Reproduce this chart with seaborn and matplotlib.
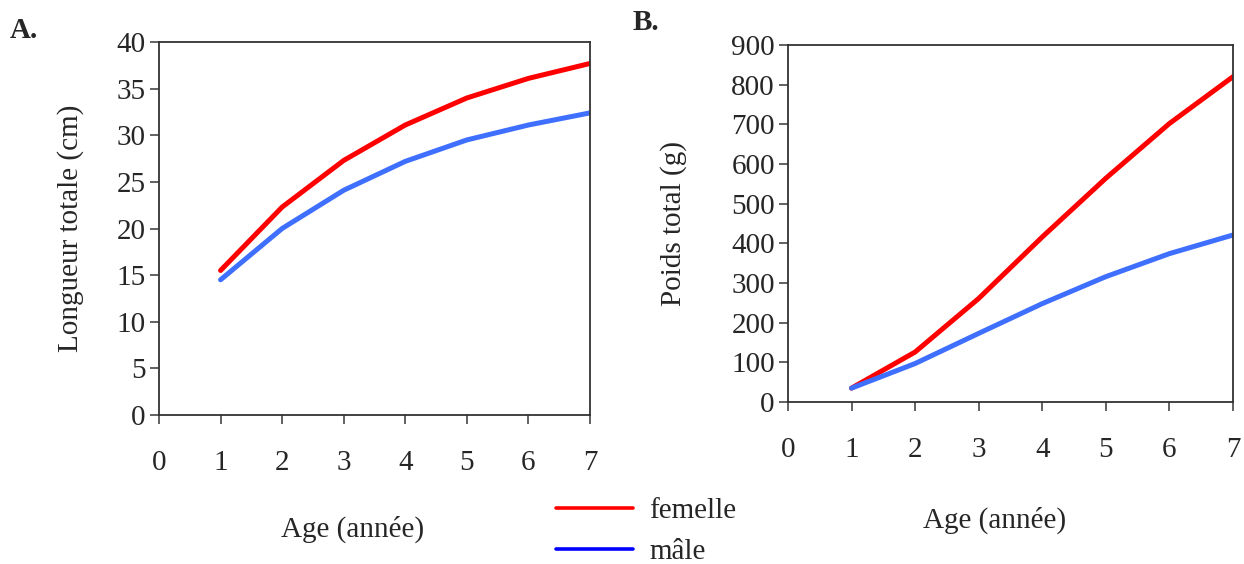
import matplotlib
matplotlib.use("Agg")
import matplotlib.pyplot as plt
from matplotlib.lines import Line2D
import seaborn as sns
import pandas as pd

# Growth by age, per sex
ages = [1, 2, 3, 4, 5, 6, 7]
longueur_femelle = [15.5, 22.3, 27.3, 31.1, 34.0, 36.1, 37.7]
longueur_male = [14.5, 20.0, 24.1, 27.2, 29.5, 31.1, 32.4]
poids_femelle = [35, 126, 261, 416, 564, 702, 820]
poids_male = [35, 97, 173, 248, 316, 374, 421]
sexes = ["femelle", "mâle"]

df = pd.DataFrame({
    "age": ages * 2,
    "sexe": [sexes[0]] * len(ages) + [sexes[1]] * len(ages),
    "longueur": longueur_femelle + longueur_male,
    "poids": poids_femelle + poids_male,
})

sns.set_theme(style="white")
plt.rcParams["font.family"] = ["Liberation Serif", "DejaVu Serif"]

line_palette = {"femelle": "#FF0000", "mâle": "#3F6FFF"}
spine_col = "#333333"
fs = 21

fig = plt.figure(figsize=(12.44, 5.64), dpi=100)
axA = fig.add_axes([0.1278, 0.2642, 0.3465, 0.6613])
axB = fig.add_axes([0.6334, 0.2872, 0.3577, 0.6330])

sns.lineplot(data=df, x="age", y="longueur", hue="sexe", palette=line_palette,
             linewidth=3.6, ax=axA, legend=False)
sns.lineplot(data=df, x="age", y="poids", hue="sexe", palette=line_palette,
             linewidth=3.6, ax=axB, legend=False)

for ax, ymax, ystep in [(axA, 40, 5), (axB, 900, 100)]:
    ax.set_xlim(0, 7)
    ax.set_ylim(0, ymax)
    ax.set_xticks(range(0, 8))
    ax.set_yticks(range(0, ymax + 1, ystep))
    for s in ax.spines.values():
        s.set_visible(True)
        s.set_color(spine_col)
        s.set_linewidth(1.3)
    ax.tick_params(axis="x", direction="out", length=6.5, width=1.3, color="#555555",
                   pad=19, labelsize=fs, bottom=True)
    ax.tick_params(axis="y", direction="out", length=6.5, width=1.3, color="#555555",
                   pad=3, labelsize=fs, left=True)
    ax.grid(False)

axA.set_xlabel("Age (année)", fontsize=fs)
axA.set_ylabel("Longueur totale (cm)", fontsize=fs)
axA.xaxis.set_label_coords(0.448, -0.27)
axA.yaxis.set_label_coords(-0.174, 0.5)

axB.set_xlabel("Age (année)", fontsize=fs)
axB.set_ylabel("Poids total (g)", fontsize=fs)
axB.xaxis.set_label_coords(0.465, -0.293)
axB.yaxis.set_label_coords(-0.227, 0.5)

fig.text(10 / 1244, 1 - 30 / 564, "A.", fontsize=fs, fontweight="bold", va="center", ha="left")
fig.text(633 / 1244, 1 - 22 / 564, "B.", fontsize=fs, fontweight="bold", va="center", ha="left")

handles = [Line2D([0], [0], color="#FF0000", lw=2.6),
           Line2D([0], [0], color="#0000FF", lw=2.6)]
fig.legend(handles, sexes, loc="center left", bbox_to_anchor=(550 / 1244, 1 - 531 / 564),
           frameon=False, fontsize=fs, handlelength=2.65, handletextpad=0.55,
           labelspacing=0.5, borderaxespad=0, borderpad=0.2)

fig.savefig("out.png", dpi=100)
